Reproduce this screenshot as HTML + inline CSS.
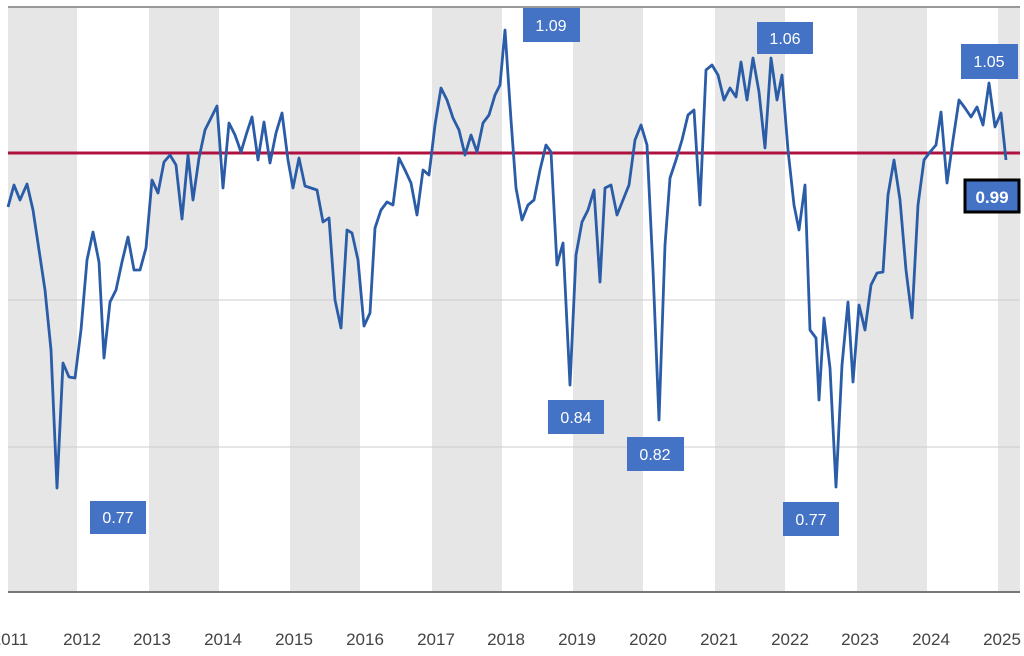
<!DOCTYPE html>
<html><head><style>
html,body{margin:0;padding:0;background:#fff;}
svg{display:block;}
text{font-family:"Liberation Sans Narrow","Liberation Sans",sans-serif;}
</style></head><body>
<svg width="1024" height="656" viewBox="0 0 1024 656" xmlns="http://www.w3.org/2000/svg">
<rect width="1024" height="656" fill="#fff"/>
<g fill="#e6e6e6">
<rect x="8" y="8" width="69" height="584"/>
<rect x="149" y="8" width="70" height="584"/>
<rect x="290" y="8" width="70" height="584"/>
<rect x="432" y="8" width="70" height="584"/>
<rect x="573" y="8" width="70" height="584"/>
<rect x="715" y="8" width="70" height="584"/>
<rect x="857" y="8" width="70" height="584"/>
<rect x="998" y="8" width="22" height="584"/>
</g>
<line x1="8" y1="7" x2="1020" y2="7" stroke="#999" stroke-width="2"/>
<line x1="8" y1="300" x2="1020" y2="300" stroke="#ccc" stroke-width="1"/>
<line x1="8" y1="447" x2="1020" y2="447" stroke="#ccc" stroke-width="1"/>
<line x1="8" y1="592" x2="1020" y2="592" stroke="#777" stroke-width="2"/>
<line x1="8" y1="153" x2="1020" y2="153" stroke="#b0123f" stroke-width="3"/>
<polyline fill="none" stroke="#2a5ca8" stroke-width="2.8" stroke-linejoin="round" points="8,207 14,185 20,200 27,184 33,210 39,250 45,290 51,350 57,488 63,363 69,377 75,378 81,330 87,260 93,232 99,262 104,358 110,302 116,290 122,262 128,237 134,270 140,270 146,248 152,180 158,193 164,162 170,155 176,165 182,219 188,155 193,200 199,158 205,130 211,118 217,106 223,188 229,123 235,135 241,152 247,132 252,117 258,160 264,122 270,163 276,133 282,113 288,160 293,188 299,158 305,186 311,188 317,190 323,222 329,218 335,300 341,328 347,230 352,233 358,260 364,326 370,313 375,228 381,210 387,202 393,205 399,158 405,170 411,183 417,215 423,170 429,175 435,125 441,88 447,100 453,118 459,130 465,155 471,135 477,152 483,123 489,115 495,95 500,85 505,30 511,120 516,188 522,220 528,205 534,200 540,170 546,145 551,152 557,265 563,243 570,385 576,255 582,222 588,210 594,190 600,282 605,188 611,185 617,215 623,200 629,185 635,140 641,125 647,145 653,270 659,420 665,245 670,178 676,160 682,140 688,115 694,110 700,205 706,70 712,65 718,75 724,100 730,88 736,97 741,62 747,100 753,58 759,92 765,148 771,58 777,100 782,75 788,150 794,205 799,230 805,185 810,330 816,338 819,400 824,318 830,368 836,487 842,365 848,302 853,382 859,305 865,330 871,285 877,273 883,272 888,195 894,160 900,200 906,270 912,318 918,205 924,160 930,152 936,145 941,112 947,183 953,140 959,100 965,108 971,117 977,107 983,125 989,83 995,127 1001,113 1006,160"/>
<g fill="#4472c4">
<rect x="523" y="8" width="57" height="34"/>
<rect x="757" y="22" width="56" height="32"/>
<rect x="961" y="44" width="57" height="35"/>
<rect x="548" y="400" width="56" height="34"/>
<rect x="627" y="437" width="57" height="34"/>
<rect x="90" y="501" width="56" height="33"/>
<rect x="783" y="502" width="56" height="34"/>
<rect x="965" y="180" width="54" height="32" stroke="#000" stroke-width="3"/>
</g>
<g fill="#fff" font-size="16" text-anchor="middle">
<text x="551" y="31">1.09</text>
<text x="785" y="44">1.06</text>
<text x="989" y="67">1.05</text>
<text x="576" y="423">0.84</text>
<text x="655" y="460">0.82</text>
<text x="118" y="523">0.77</text>
<text x="811" y="525">0.77</text>
<text x="992" y="203" font-weight="bold" font-size="17">0.99</text>
</g>
<g fill="#444" font-size="17" text-anchor="middle">
<text x="10" y="645">2011</text>
<text x="82" y="645">2012</text>
<text x="152" y="645">2013</text>
<text x="223" y="645">2014</text>
<text x="294" y="645">2015</text>
<text x="365" y="645">2016</text>
<text x="436" y="645">2017</text>
<text x="506" y="645">2018</text>
<text x="577" y="645">2019</text>
<text x="648" y="645">2020</text>
<text x="719" y="645">2021</text>
<text x="790" y="645">2022</text>
<text x="860" y="645">2023</text>
<text x="931" y="645">2024</text>
<text x="1002" y="645">2025</text>
</g>
</svg>
</body></html>
